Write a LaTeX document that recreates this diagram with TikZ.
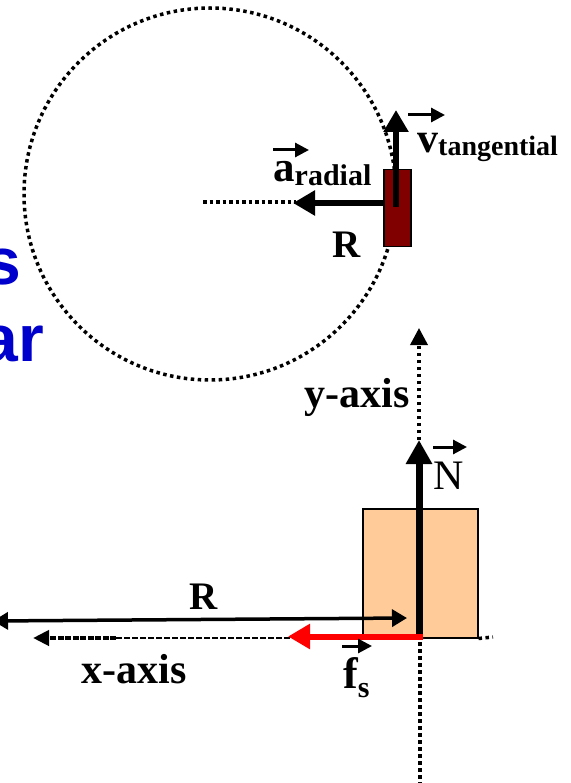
\documentclass[tikz,border=0pt]{standalone}
\usepackage{fontspec}
\setmainfont{Liberation Serif}
\newfontfamily\blueface{Liberation Sans}
\usetikzlibrary{arrows.meta}
\definecolor{maroonbox}{RGB}{128,0,0}
\definecolor{peach}{RGB}{255,204,153}
\definecolor{titleblue}{RGB}{0,0,204}
\definecolor{fred}{RGB}{255,0,0}
\begin{document}
\begin{tikzpicture}[x=1pt,y=-1pt,
  lbl/.style={inner sep=0pt, anchor=base, font=\fontsize{39}{40}\selectfont\bfseries},
  axlbl/.style={inner sep=0pt, anchor=base, font=\fontsize{42}{44}\selectfont\bfseries},
  vlbl/.style={inner sep=0pt, anchor=base west},
  vec/.style={line width=3pt, -{Triangle[length=14pt,width=14pt]}},
  force/.style={line width=6pt, -{Triangle[length=22pt,width=24pt]}},
  dots/.style={line width=3.5pt, dash pattern=on 3.5pt off 3.5pt},
  blk/.style={draw, line width=1.5pt, inner sep=0pt, anchor=north west},
  bluetxt/.style={anchor=base east, inner sep=0pt, text=titleblue, font=\blueface\bfseries\fontsize{66}{66}\selectfont}
]
\useasboundingbox (0,0) rectangle (570,783);
\clip (0,0) rectangle (570,783);

% blue title fragments (cut off at the left edge, as in the reference)
\node[bluetxt] (t1) at (21,284) {s};
\node[bluetxt] (t2) at (44,361) {ar};

% top: circular path
\draw[dots] (210,194) circle[radius=186];
\coordinate (ctr) at (203,202);
\coordinate (rtip) at (293,203);
\draw[line width=3.5pt, dash pattern=on 3.5pt off 3pt] (ctr) -- (296,202);
\node[blk, fill=maroonbox, minimum width=27pt, minimum height=77pt] (puck) at (383,169) {};
\coordinate (vtop) at (396,110);
\draw[force] (puck.west |- rtip) -- (rtip);
\draw[force] (396,207) -- (vtop);

\node[vlbl, font=\fontsize{43}{43}\selectfont\bfseries] (arad) at (273,182)
  {a\raisebox{-4pt}{\fontsize{30}{30}\selectfont radial}};
\draw[vec] ([yshift=32pt]arad.base west) -- ++(36,0);
\node[vlbl, font=\fontsize{42}{42}\selectfont\bfseries] (vtan) at (417,153)
  {v\raisebox{-3pt}{\fontsize{28}{28}\selectfont tangential}};
\draw[vec] ([xshift=-9pt,yshift=38pt]vtan.base west) -- ++(37,0);
\node[lbl] (Rtop) at (347,258) {R};

% bottom: block on road
\node[blk, fill=peach, minimum width=115pt, minimum height=129pt] (block) at (362,508) {};
\coordinate (ytip) at (419,328);
\coordinate (ntip) at (419,440);
\draw[line width=7pt, -{Triangle[length=24pt,width=25pt]}] (block.south -| ntip) -- (ntip);
\draw[dots, -{Triangle[length=17pt,width=17pt]}] (ntip) -- (ytip);
\coordinate (ybot) at (420,783);
\draw[dots] (420,642) -- (ybot);
\coordinate (xr) at (493,637);
\draw[dots] (block.south east) -- (xr);

\coordinate (xtip) at (33,638);
\coordinate (xmid) at (114,638);
\draw[line width=2.5pt, dash pattern=on 6pt off 2pt] (290,638) -- (xmid);
\draw[line width=4.5pt, dash pattern=on 6pt off 1.5pt, -{Triangle[length=16pt,width=15pt]}] (116,638) -- (xtip);

\coordinate (fend) at (288,636.5);
\draw[force, draw=fred] (423,636.5) -- (fend);

\coordinate (Rl) at (-7,621);
\coordinate (Rr) at (407,618);
\draw[line width=3.5pt, {Triangle[length=15pt,width=17pt]}-{Triangle[length=15pt,width=17pt]}] (Rl) -- (Rr);

\node[lbl] (Rbot) at (204,609) {R};
\node[axlbl] (xlab) at (134,683) {x-axis};
\node[axlbl] (ylab) at (357,407) {y-axis};

\node[vlbl, font=\fontsize{42}{42}\selectfont] (Nlab) at (433,489) {N};
\draw[vec] ([xshift=0pt,yshift=42pt]Nlab.base west) -- ++(34,0);
\node[vlbl, font=\fontsize{44}{44}\selectfont\bfseries] (fs) at (343,688)
  {f\raisebox{-9pt}{\fontsize{30}{30}\selectfont s}};
\draw[vec] ([xshift=-1pt,yshift=42pt]fs.base west) -- ++(30,0);
\end{tikzpicture}
\end{document}
